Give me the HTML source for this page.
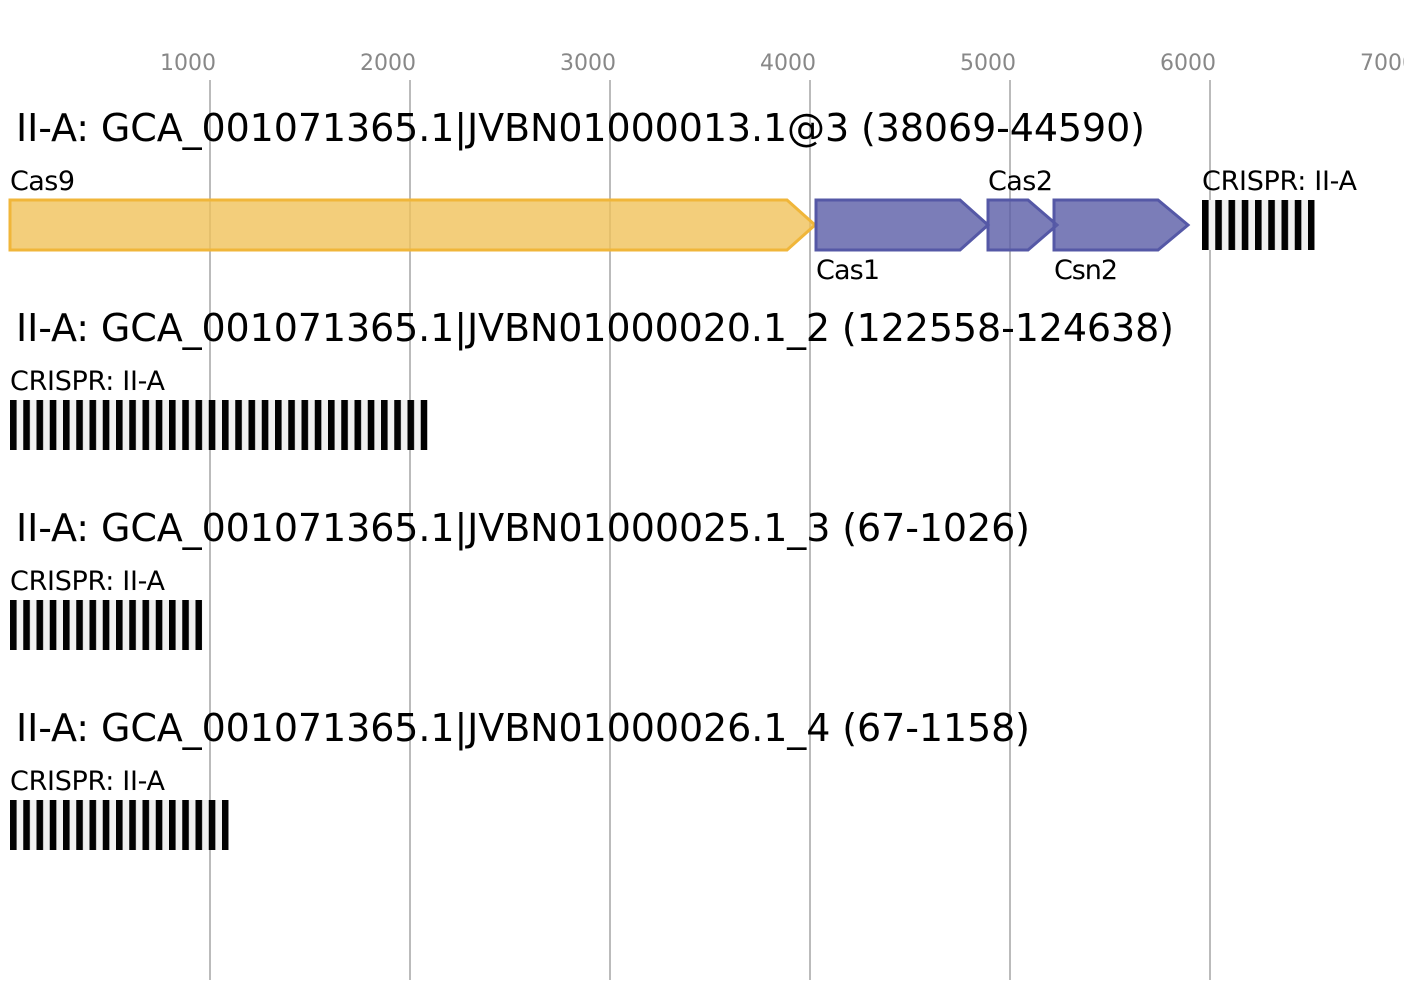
<!DOCTYPE html>
<html><head><style>body{margin:0;background:#fff}svg{display:block}</style></head>
<body>
<svg width="1404" height="1000" xmlns="http://www.w3.org/2000/svg" font-family="DejaVu Sans, Liberation Sans, sans-serif">
<defs>
<pattern id="cr" x="10" y="0" width="13.25" height="100" patternUnits="userSpaceOnUse">
<rect x="0" y="0" width="13.25" height="100" fill="#f0f0f0"/>
<rect x="0" y="0" width="6.6" height="100" fill="#000"/>
</pattern>
<pattern id="cr2" x="1202" y="0" width="13.25" height="100" patternUnits="userSpaceOnUse">
<rect x="0" y="0" width="13.25" height="100" fill="#f0f0f0"/>
<rect x="0" y="0" width="6.6" height="100" fill="#000"/>
</pattern>
</defs>
<g stroke="#bbb" stroke-width="2">
<line x1="210" y1="80" x2="210" y2="980"/><line x1="410" y1="80" x2="410" y2="980"/>
<line x1="610" y1="80" x2="610" y2="980"/><line x1="810" y1="80" x2="810" y2="980"/>
<line x1="1010" y1="80" x2="1010" y2="980"/><line x1="1210" y1="80" x2="1210" y2="980"/>
</g>
<g fill="#888" font-size="22">
<text x="160" y="70" textLength="56">1000</text><text x="360" y="70" textLength="56">2000</text><text x="560" y="70" textLength="56">3000</text>
<text x="760" y="70" textLength="56">4000</text><text x="960" y="70" textLength="56">5000</text><text x="1160" y="70" textLength="56">6000</text><text x="1360" y="70" textLength="56">7000</text>
</g>
<g font-size="38" fill="#000">
<text x="16" y="141" textLength="1129">II-A: GCA_001071365.1|JVBN01000013.1@3 (38069-44590)</text>
<text x="16" y="341" textLength="1158">II-A: GCA_001071365.1|JVBN01000020.1_2 (122558-124638)</text>
<text x="16" y="541" textLength="1014">II-A: GCA_001071365.1|JVBN01000025.1_3 (67-1026)</text>
<text x="16" y="741" textLength="1014">II-A: GCA_001071365.1|JVBN01000026.1_4 (67-1158)</text>
</g>
<g stroke-width="3" stroke-linejoin="miter">
<polygon points="10,200 787,200 815,225 787,250 10,250" fill="#f0c25a" fill-opacity="0.8" stroke="#f0b63a"/>
<polygon points="816,200 960,200 988,225 960,250 816,250" fill="#5a5ca6" fill-opacity="0.8" stroke="#5558a6"/>
<polygon points="988,200 1028,200 1057,225 1028,250 988,250" fill="#5a5ca6" fill-opacity="0.8" stroke="#5558a6"/>
<polygon points="1054,200 1158,200 1188,225 1158,250 1054,250" fill="#5a5ca6" fill-opacity="0.8" stroke="#5558a6"/>
</g>
<rect x="1202" y="200" width="112.6" height="50" fill="url(#cr2)"/>
<rect x="10" y="400" width="417.4" height="50" fill="url(#cr)"/>
<rect x="10" y="600" width="192.1" height="50" fill="url(#cr)"/>
<rect x="10" y="800" width="218.6" height="50" fill="url(#cr)"/>
<g font-size="27" fill="#000">
<text x="10" y="190" textLength="65">Cas9</text><text x="816" y="279" textLength="64">Cas1</text><text x="988" y="190" textLength="65">Cas2</text>
<text x="1054" y="279" textLength="64">Csn2</text><text x="1202" y="190" textLength="155">CRISPR: II-A</text>
<text x="10" y="390" textLength="155">CRISPR: II-A</text><text x="10" y="590" textLength="155">CRISPR: II-A</text><text x="10" y="790" textLength="155">CRISPR: II-A</text>
</g>
</svg>
</body></html>
